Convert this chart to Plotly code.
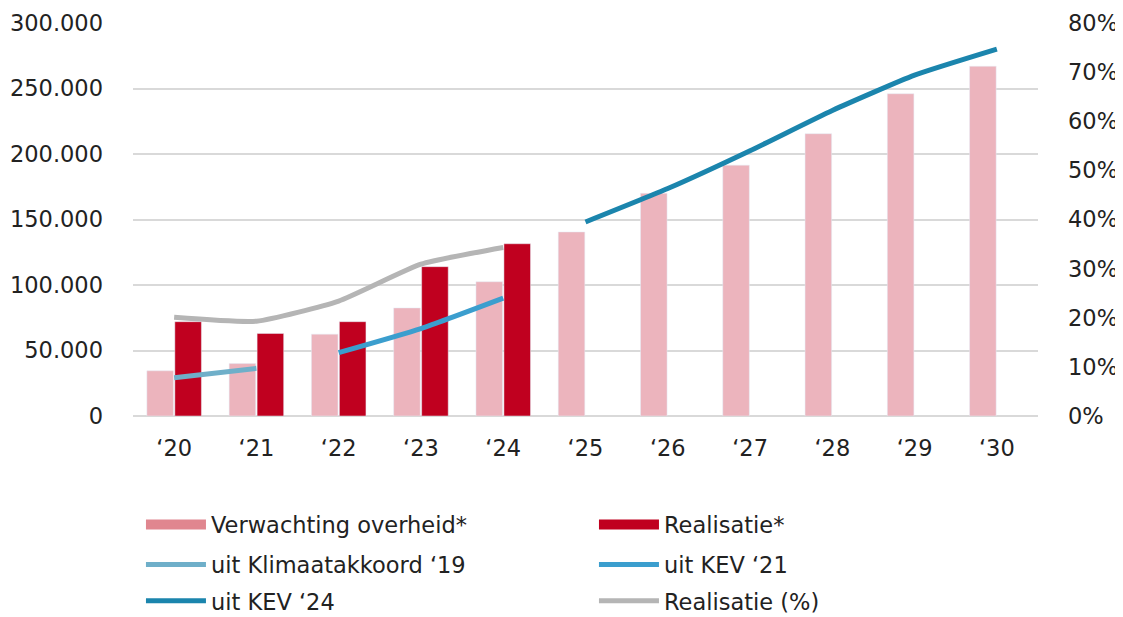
import plotly.graph_objects as go

categories = ["‘20", "‘21", "‘22", "‘23", "‘24", "‘25", "‘26", "‘27", "‘28", "‘29", "‘30"]
verwachting = [34500, 40000, 62500, 82500, 102500, 140500, 170000, 191500, 215500, 246000, 267000]
realisatie = [72000, 63000, 72000, 114000, 131500, None, None, None, None, None, None]

klimaat_cats = ["‘20", "‘21"]
klimaat_pct = [7.8, 9.7]
kev21_cats = ["‘22", "‘23", "‘24"]
kev21_pct = [12.9, 17.8, 24.0]
kev24_cats = ["‘25", "‘26", "‘27", "‘28", "‘29", "‘30"]
kev24_pct = [39.5, 46.3, 54.0, 62.2, 69.4, 74.7]
real_pct_cats = ["‘20", "‘21", "‘22", "‘23", "‘24"]
real_pct = [20.1, 19.3, 23.4, 30.9, 34.3]

left_ticks = [0, 50000, 100000, 150000, 200000, 250000, 300000]
right_ticks = [0, 10, 20, 30, 40, 50, 60, 70, 80]
right_ticktext = ["0%", "10%", "20%", "30%", "40%", "50%", "60%", "70%", "80%"]

PINK = "#ecb4bd"
PINK_LEG = "#e0868f"
RED = "#c0001f"
C_KLIM = "#6fafc9"
C_KEV21 = "#3b9ece"
C_KEV24 = "#1b85ad"
C_GRAY = "#b5b5b5"
FONT = "DejaVu Sans"
TXT = "#222222"
FS = 22.5

fig = go.Figure()

fig.add_trace(go.Bar(x=categories, y=verwachting, marker_color=PINK, showlegend=False,
                     name="Verwachting overheid*"))
fig.add_trace(go.Bar(x=categories, y=realisatie, marker_color=RED, showlegend=False,
                     name="Realisatie*"))

# legend swatches for the bar series (wide rectangles)
fig.add_trace(go.Scatter(x=[None], y=[None], mode="lines", line=dict(color=PINK_LEG, width=14),
                         name="Verwachting overheid*", legend="legend"))
fig.add_trace(go.Scatter(x=[None], y=[None], mode="lines", line=dict(color=RED, width=14),
                         name="Realisatie*", legend="legend"))

line_kw = dict(mode="lines", yaxis="y2")
fig.add_trace(go.Scatter(x=klimaat_cats, y=klimaat_pct, line=dict(color=C_KLIM, width=5, shape="spline", smoothing=0.5),
                         name="uit Klimaatakkoord ‘19", legend="legend2", **line_kw))
fig.add_trace(go.Scatter(x=kev21_cats, y=kev21_pct, line=dict(color=C_KEV21, width=5, shape="spline", smoothing=0.5),
                         name="uit KEV ‘21", legend="legend2", **line_kw))
fig.add_trace(go.Scatter(x=kev24_cats, y=kev24_pct, line=dict(color=C_KEV24, width=5, shape="spline", smoothing=0.5),
                         name="uit KEV ‘24", legend="legend3", **line_kw))
fig.add_trace(go.Scatter(x=real_pct_cats, y=real_pct, line=dict(color=C_GRAY, width=5, shape="spline", smoothing=0.5),
                         name="Realisatie (%)", legend="legend3", **line_kw))

leg_common = dict(orientation="h", x=0.0088, xanchor="left", yanchor="middle",
                  font=dict(family=FONT, size=FS, color=TXT), itemwidth=60,
                  entrywidth=378, bgcolor="rgba(0,0,0,0)", traceorder="normal")

fig.update_layout(
    width=1115, height=609,
    margin=dict(l=125, r=85, t=15, b=201, autoexpand=False),
    paper_bgcolor="white", plot_bgcolor="white",
    font=dict(family=FONT, size=FS, color=TXT),
    separators=",.",
    barmode="group", bargap=0.32, bargroupgap=0.05,
    xaxis=dict(type="category", categoryorder="array", categoryarray=categories,
               showgrid=False, showline=False, ticks="", ticklabelstandoff=16,
               tickfont=dict(family=FONT, size=FS, color=TXT)),
    yaxis=dict(range=[0, 300000], tickvals=left_ticks, tickformat=",.0f",
               showgrid=True, gridcolor="#d9d9d9", gridwidth=2,
               zeroline=True, zerolinecolor="#d9d9d9", zerolinewidth=2,
               ticks="", ticklabelstandoff=29, showline=False,
               tickfont=dict(family=FONT, size=FS, color=TXT)),
    yaxis2=dict(range=[0, 80], tickvals=right_ticks, ticktext=right_ticktext, overlaying="y", side="right",
                showgrid=False, zeroline=False, ticks="", ticklabelstandoff=29, showline=False,
                tickfont=dict(family=FONT, size=FS, color=TXT)),
    legend=dict(y=-0.277, **leg_common),
    legend2=dict(y=-0.379, **leg_common),
    legend3=dict(y=-0.471, **leg_common),
)

fig.write_html("out.html")
